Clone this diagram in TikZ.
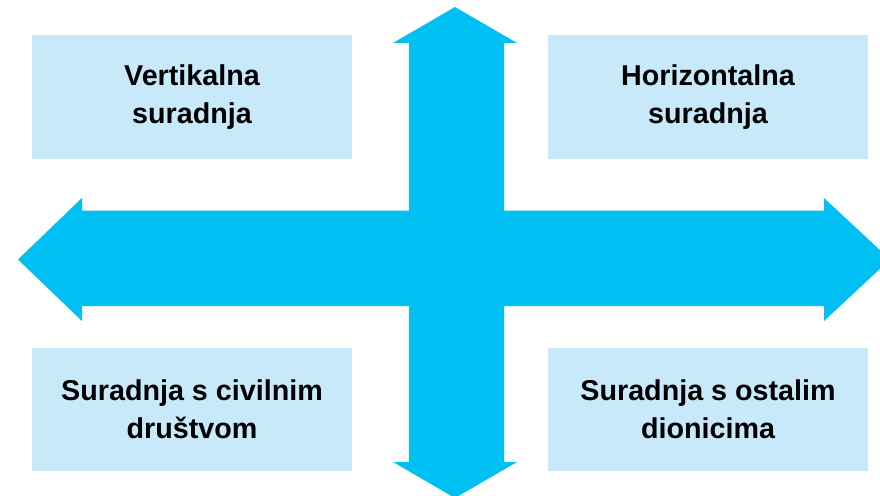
\documentclass[tikz,border=0pt]{standalone}
\usepackage{fontspec}
\setmainfont{Liberation Sans}
\definecolor{arrowblue}{RGB}{0,192,243}
\definecolor{boxblue}{RGB}{199,233,249}
\tikzset{
  panel/.style={fill=boxblue, draw=none, minimum width=320pt, minimum height=123pt,
    inner sep=0pt, align=center, font=\bfseries\fontsize{28.7}{37.5}\selectfont},
  bigarrow/.style={fill=arrowblue, draw=none}
}
\begin{document}
\begin{tikzpicture}[x=1pt,y=-1pt]
\useasboundingbox (0,0) rectangle (880,495);
\clip (0,0) rectangle (880,495);
% boxes
\node[panel] (tl) at (192,97) {Vertikalna\\suradnja};
\node[panel] (tr) at (708,97) {Horizontalna\\suradnja};
\node[panel] (bl) at (192,409) {Suradnja s civilnim\\društvom};
\node[panel] (br) at (708,409) {Suradnja s ostalim\\dionicima};
% horizontal double arrow
\fill[bigarrow] (18,259.5) -- (82,198) -- (82,210.5) -- (824,210.5) -- (824,198)
  -- (890,259.5) -- (824,321) -- (824,306) -- (82,306) -- (82,321) -- cycle;
% vertical double arrow
\fill[bigarrow] (455,7) -- (517,43) -- (504,43) -- (504,462) -- (517,462)
  -- (455,498) -- (393,462) -- (409,462) -- (409,43) -- (393,43) -- cycle;
\end{tikzpicture}
\end{document}
